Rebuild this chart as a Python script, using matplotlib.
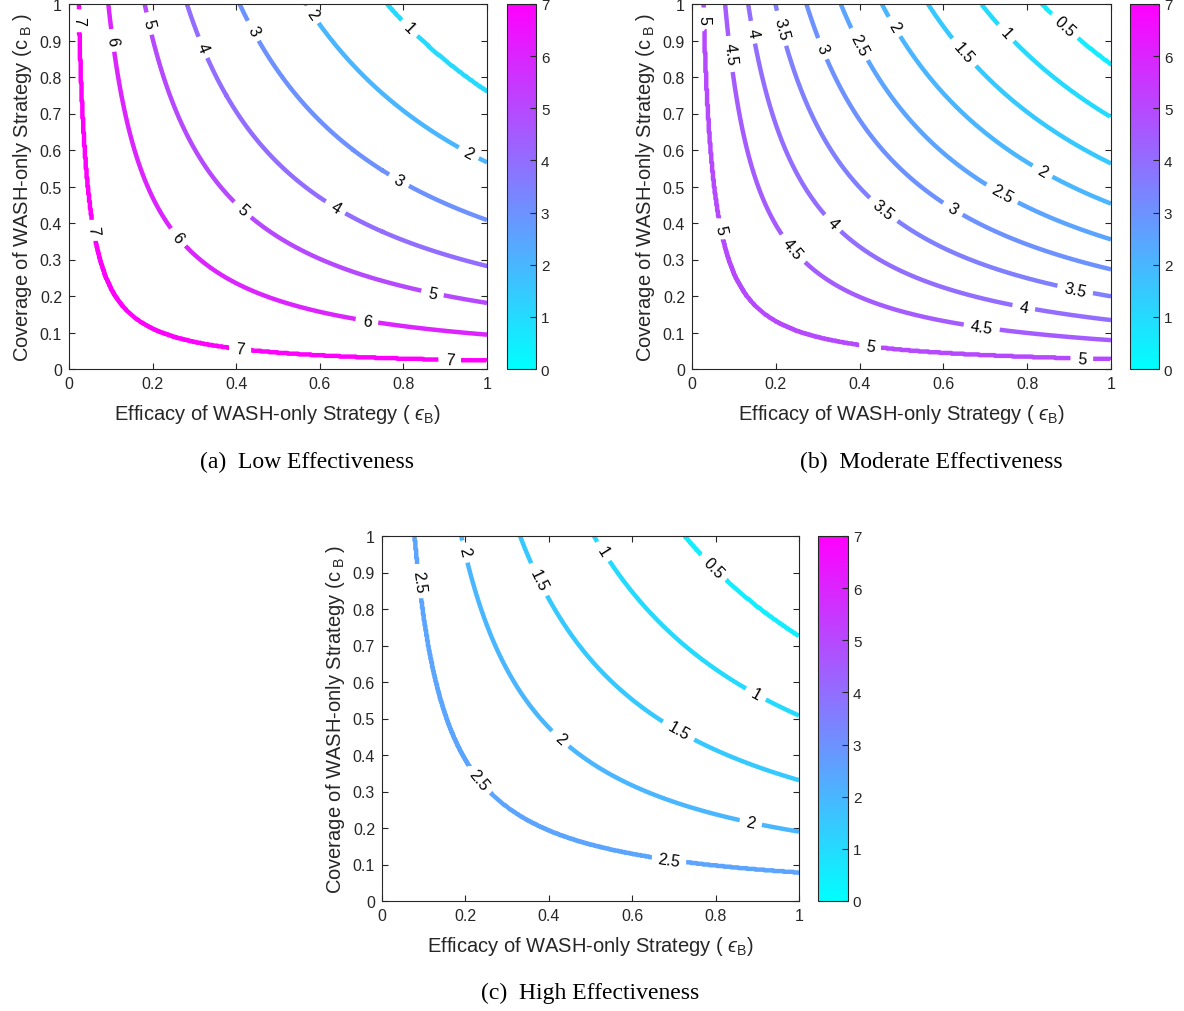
import numpy as np
import matplotlib
matplotlib.use("Agg")
import matplotlib.pyplot as plt
from matplotlib.colors import Normalize
from matplotlib.cm import ScalarMappable

plt.rcParams['font.family'] = ['Liberation Sans', 'DejaVu Sans']
plt.rcParams['mathtext.fontset'] = 'custom'
plt.rcParams['mathtext.rm'] = 'Liberation Sans'
plt.rcParams['mathtext.it'] = 'Liberation Sans:italic'
plt.rcParams['mathtext.fallback'] = 'stixsans'

# contour levels and the coverage*efficacy product where each level sits (read at eps=1)
low_levels = [1, 2, 3, 4, 5, 6, 7]
low_prod = [0.762, 0.566, 0.408, 0.282, 0.181, 0.094, 0.022]
mod_levels = [0.5, 1, 1.5, 2, 2.5, 3, 3.5, 4, 4.5, 5]
mod_prod = [0.836, 0.690, 0.563, 0.453, 0.355, 0.273, 0.199, 0.134, 0.079, 0.026]
high_levels = [0.5, 1, 1.5, 2, 2.5]
high_prod = [0.727, 0.508, 0.331, 0.190, 0.077]

# where the inline labels go (eps, c)
low_lab = [(0.026, 0.954), (0.058, 0.379), (0.409, 0.047), (0.911, 0.02),
           (0.103, 0.90), (0.258, 0.358), (0.712, 0.126),
           (0.186, 0.945), (0.409, 0.429), (0.868, 0.20),
           (0.316, 0.879), (0.636, 0.44),
           (0.437, 0.924), (0.787, 0.512),
           (0.581, 0.973), (0.955, 0.589),
           (0.809, 0.933)]
mod_lab = [(0.029, 0.959), (0.067, 0.382), (0.425, 0.053), (0.93, 0.025),
           (0.091, 0.863), (0.232, 0.321), (0.69, 0.103),
           (0.142, 0.922), (0.333, 0.397), (0.791, 0.164),
           (0.208, 0.932), (0.453, 0.431), (0.914, 0.215),
           (0.31, 0.877), (0.62, 0.434),
           (0.393, 0.886), (0.737, 0.474),
           (0.48, 0.936), (0.835, 0.539),
           (0.644, 0.863),
           (0.747, 0.918),
           (0.886, 0.936)]
high_lab = [(0.079, 0.873), (0.227, 0.325), (0.687, 0.106),
            (0.191, 0.955), (0.423, 0.439), (0.883, 0.208),
            (0.371, 0.878), (0.707, 0.458),
            (0.527, 0.955), (0.894, 0.562),
            (0.791, 0.91)]

captions = ['(a)  Low Effectiveness', '(b)  Moderate Effectiveness', '(c)  High Effectiveness']

W, H = 1184.0, 1012.0
fig = plt.figure(figsize=(11.84, 10.12), dpi=100)

axc = '#262626'
cmap = plt.get_cmap('cool')
norm = Normalize(0, 7)

eps = np.linspace(0, 1, 501)
cov = np.linspace(0, 1, 501)
E, C = np.meshgrid(eps, cov)
P = E * C


def panel(x0, x1, y0, y1, cx0, cx1, levels, prod, labpos):
    ax = fig.add_axes([x0 / W, 1 - y1 / H, (x1 - x0) / W, (y1 - y0) / H])
    order = np.argsort(prod)
    pp = np.array(prod)[order]
    lv = np.array(levels, dtype=float)[order]
    Z = np.interp(P, pp, lv, left=lv.max() + 0.5, right=lv.min() - 0.5)
    cs = ax.contour(E, C, Z, levels=sorted(levels), cmap=cmap, norm=norm, linewidths=3.2)
    ax.clabel(cs, manual=labpos, inline=True, inline_spacing=7, fontsize=11.5,
              colors='k', fmt='%g')
    ax.set_xlim(0, 1)
    ax.set_ylim(0, 1)
    ax.set_xticks(np.arange(0, 1.01, 0.2))
    ax.set_xticklabels(['0', '0.2', '0.4', '0.6', '0.8', '1'])
    ax.set_yticks(np.arange(0, 1.01, 0.1))
    ax.set_yticklabels(['0', '0.1', '0.2', '0.3', '0.4', '0.5', '0.6', '0.7', '0.8', '0.9', '1'])
    ax.tick_params(direction='in', top=True, right=True, length=4, width=0.8,
                   colors=axc, labelsize=11.5, labelcolor=axc, pad=5)
    for s in ax.spines.values():
        s.set_color(axc)
        s.set_linewidth(0.8)
    ax.set_xlabel('Efficacy of WASH-only Strategy ( $\u03f5_{\\rm B}$)', fontsize=14.5,
                  color=axc, labelpad=8)
    ax.set_ylabel('Coverage of WASH-only Strategy (c$_{\\rm \\ B}$ )', fontsize=14.5,
                  color=axc, labelpad=4)

    cax = fig.add_axes([cx0 / W, 1 - y1 / H, (cx1 - cx0) / W, (y1 - y0) / H])
    cb = fig.colorbar(ScalarMappable(norm=norm, cmap=cmap), cax=cax)
    cb.set_ticks(range(8))
    cb.ax.tick_params(direction='in', length=4, width=0.8, colors=axc,
                      labelsize=11, labelcolor=axc)
    cb.outline.set_edgecolor(axc)
    cb.outline.set_linewidth(0.8)
    return ax


panel(69, 487, 5, 370, 507, 536, low_levels, low_prod, low_lab)
panel(692, 1111, 5, 370, 1130, 1159, mod_levels, mod_prod, mod_lab)
panel(382, 799, 537, 902, 818, 848, high_levels, high_prod, high_lab)

capfont = dict(family=['Liberation Serif', 'DejaVu Serif'], fontsize=17, ha='center', va='center')
fig.text(307 / W, 1 - 462 / H, captions[0], **capfont)
fig.text(931 / W, 1 - 462 / H, captions[1], **capfont)
fig.text(590 / W, 1 - 993 / H, captions[2], **capfont)

fig.savefig('out.png', dpi=100)
